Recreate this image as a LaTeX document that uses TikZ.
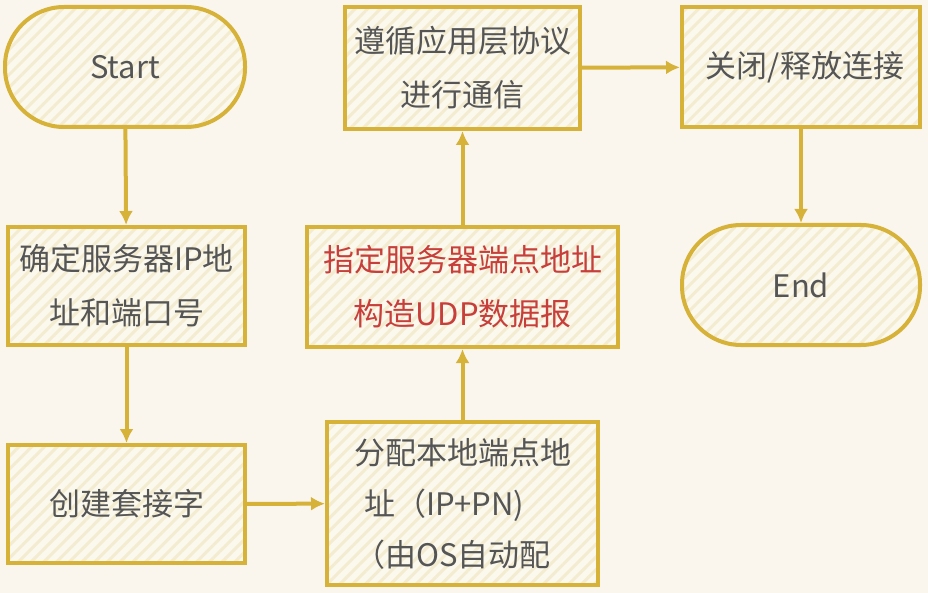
\documentclass[tikz,border=0pt]{standalone}
\usepackage{fontspec}
\setmainfont{Noto Sans CJK SC}
\usetikzlibrary{arrows.meta,patterns.meta}
\definecolor{bgc}{RGB}{250,246,238}
\definecolor{gold}{RGB}{214,178,56}
\definecolor{fillc}{RGB}{251,248,237}
\definecolor{hatchc}{RGB}{244,236,208}
\definecolor{txtc}{RGB}{85,85,85}
\definecolor{redc}{RGB}{199,62,58}
\tikzset{
  base/.style={draw=gold, line width=4pt, inner sep=0pt, text=txtc,
    font=\fontsize{31pt}{54pt}\selectfont, align=center,
    preaction={fill=fillc},
    pattern={Lines[angle=45,distance=9pt,line width=3pt]}, pattern color=hatchc},
  stadium/.style={base, rounded corners=59pt, minimum width=240pt, minimum height=120pt},
  procbox/.style={base, minimum width=#1},
  conn/.style={draw=gold, line width=4pt, -{Latex[length=14pt,width=14pt]}}
}
\begin{document}
\begin{tikzpicture}[x=1pt,y=-1pt]
\fill[bgc] (0,0) rectangle (928,593);
\useasboundingbox (0,0) rectangle (928,593);
\node[stadium] (start) at (125,67) {Start};
\node[procbox=237pt, minimum height=118pt] (ip) at (126.5,286) {确定服务器IP地\\址和端口号};
\node[procbox=237pt, minimum height=118pt] (sock) at (126.5,504) {创建套接字};
\node[procbox=271pt, minimum height=163pt, align=left, font=\fontsize{31pt}{51pt}\selectfont] (alloc) at (462.5,503.5)
  {分配本地端点地\\\hspace{10pt}址（IP+PN)\\（由OS自动配};
\node[procbox=311pt, minimum height=120pt, text=redc] (udp) at (462.5,287) {指定服务器端点地址\\构造UDP数据报};
\node[procbox=235pt, minimum height=122pt] (comm) at (462.5,68) {遵循应用层协议\\进行通信};
\node[procbox=238pt, minimum height=120pt] (close) at (801,67) {\hspace{8pt}关闭/释放连接};
\node[stadium, minimum width=238pt] (end) at (801,285) {End};
\draw[conn] (start) -- (ip);
\draw[conn] (ip) -- (sock);
\draw[conn] (sock) -- (alloc);
\draw[conn] (alloc) -- (udp);
\draw[conn] (udp) -- (comm);
\draw[conn] (comm) -- (close);
\draw[conn] (close) -- (end);
\end{tikzpicture}
\end{document}
